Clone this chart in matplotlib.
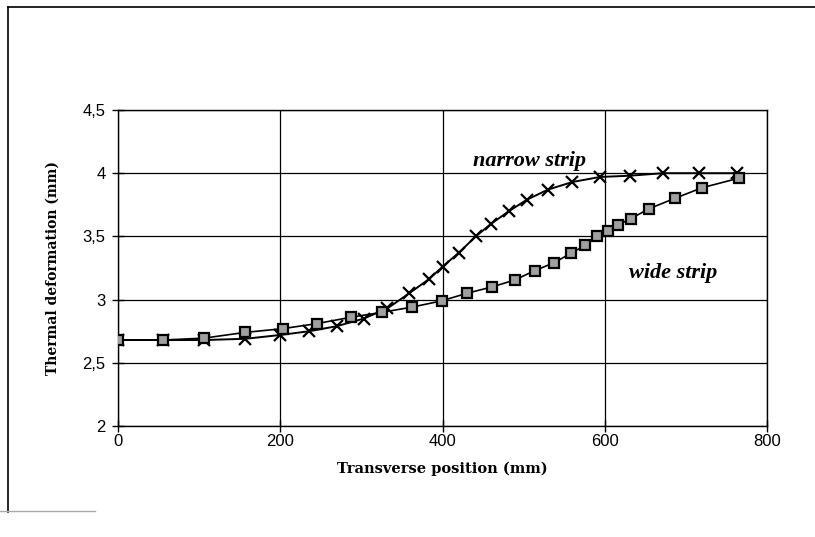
import matplotlib
matplotlib.use("Agg")
import matplotlib.pyplot as plt
from matplotlib.lines import Line2D
from matplotlib.ticker import FuncFormatter

# narrow strip (x markers)
narrow_x = [0, 55, 106, 157, 200, 236, 270, 303, 332, 359, 383, 400, 420,
            441, 460, 482, 504, 530, 560, 594, 631, 672, 716, 763]
narrow_y = [2.68, 2.68, 2.68, 2.69, 2.72, 2.75, 2.79, 2.85, 2.93, 3.05, 3.16,
            3.26, 3.37, 3.50, 3.60, 3.70, 3.79, 3.87, 3.93, 3.97, 3.98, 4.00,
            4.00, 4.00]

# wide strip (square markers)
wide_x = [0, 55, 106, 156, 203, 245, 287, 326, 362, 399, 430, 461, 489, 514,
          537, 558, 576, 591, 604, 616, 632, 655, 686, 720, 765]
wide_y = [2.68, 2.68, 2.695, 2.74, 2.77, 2.81, 2.86, 2.90, 2.94, 2.99, 3.05,
          3.10, 3.155, 3.23, 3.29, 3.365, 3.43, 3.50, 3.54, 3.59, 3.64, 3.72,
          3.80, 3.885, 3.96]

x_ticks = [0, 200, 400, 600, 800]
y_ticks = [2, 2.5, 3, 3.5, 4, 4.5]

fig = plt.figure(figsize=(8.15, 5.37), dpi=100)
ax = fig.add_axes([0.1448, 0.2067, 0.7963, 0.5885])

ax.plot(narrow_x, narrow_y, color="black", lw=1.4, marker="x",
        markersize=9, markeredgewidth=1.6, zorder=3)
ax.plot(wide_x, wide_y, color="black", lw=1.2, marker="s",
        markersize=7, markerfacecolor="#a0a0a0", markeredgecolor="black",
        markeredgewidth=1.6, zorder=4)

ax.set_xlim(0, 800)
ax.set_ylim(2, 4.5)
ax.set_xticks(x_ticks)
ax.set_yticks(y_ticks)
ax.yaxis.set_major_formatter(FuncFormatter(lambda v, p: f"{v:g}".replace(".", ",")))
ax.grid(True, color="black", lw=0.9)
ax.set_axisbelow(True)
for s in ax.spines.values():
    s.set_linewidth(1.0)
ax.tick_params(direction="inout", length=8, width=1.0, labelsize=12)
ax.tick_params(axis="x", pad=2)
ax.tick_params(axis="y", pad=5)
for lab in ax.get_xticklabels() + ax.get_yticklabels():
    lab.set_fontfamily("Liberation Sans")

ax.set_xlabel("Transverse position (mm)", fontfamily="DejaVu Serif",
              fontweight="bold", fontsize=10.5, labelpad=9)
ax.set_ylabel("Thermal deformation (mm)", fontfamily="DejaVu Serif",
              fontweight="bold", fontsize=10, labelpad=16)

ax.text(507, 4.10, "narrow strip", fontfamily="Liberation Serif",
        fontstyle="italic", fontweight="bold", fontsize=16,
        ha="center", va="center")
ax.text(684, 3.21, "wide strip", fontfamily="Liberation Serif",
        fontstyle="italic", fontweight="bold", fontsize=16,
        ha="center", va="center")

# outer frame of the original chart area
fig.add_artist(Line2D([8 / 815, 1.0], [1 - 7 / 537, 1 - 7 / 537],
                      transform=fig.transFigure, color="black", lw=1.2))
fig.add_artist(Line2D([8 / 815, 8 / 815], [1 - 7 / 537, 1 - 512 / 537],
                      transform=fig.transFigure, color="black", lw=1.2))
fig.add_artist(Line2D([0, 95 / 815], [1 - 511 / 537, 1 - 511 / 537],
                      transform=fig.transFigure, color="#aaaaaa", lw=1.0))

fig.savefig("out.png", dpi=100)
